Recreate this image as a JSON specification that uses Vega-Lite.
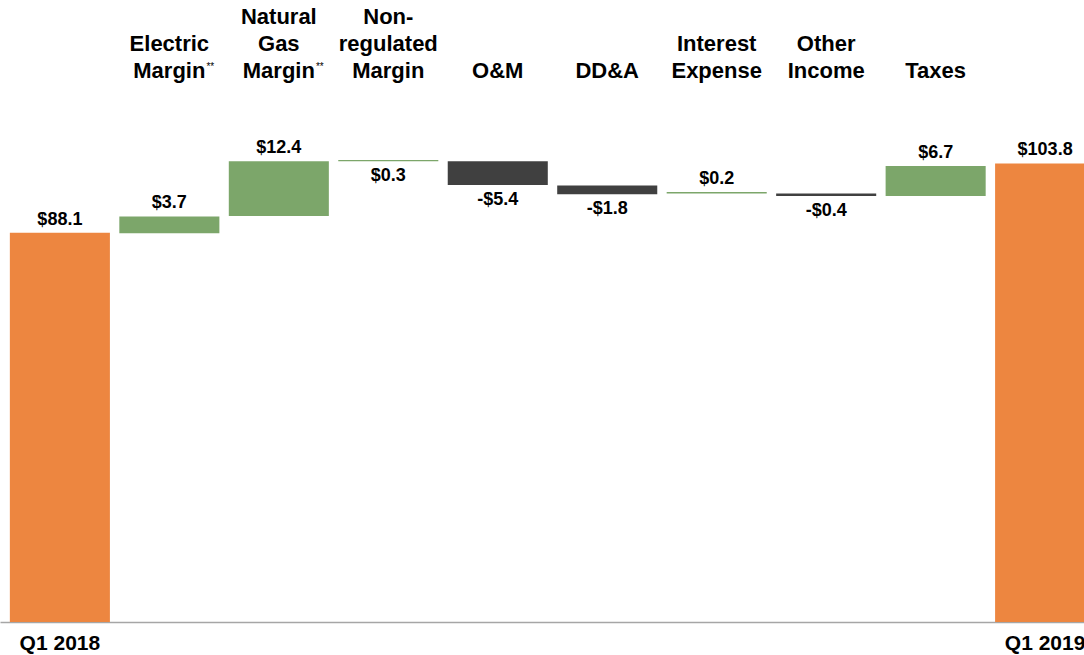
{
  "$schema": "https://vega.github.io/schema/vega-lite/v6.json",
  "width": 1084,
  "height": 486,
  "autosize": "none",
  "padding": {"left": 0, "top": 136, "right": 0, "bottom": 33},
  "background": "white",
  "config": {
    "view": {"stroke": null},
    "font": "Liberation Sans",
    "axis": {"title": null, "labelAngle": 0, "ticks": false, "tickSize": 0, "grid": false, "labelOverlap": false, "labelColor": "#000000"}
  },
  "data": {
    "values": [
      {"cat": "Q1 2018", "lo": 0, "hi": 88.1, "kind": "total", "label": "$88.1", "pos": "above"},
      {"cat": "Electric|Margin", "lo": 88.0, "hi": 91.8, "kind": "up", "label": "$3.7", "pos": "above"},
      {"cat": "Natural|Gas|Margin", "lo": 91.9, "hi": 104.26, "kind": "up", "label": "$12.4", "pos": "above"},
      {"cat": "Non-|regulated|Margin", "lo": 104.26, "hi": 104.58, "kind": "up", "label": "$0.3", "pos": "below"},
      {"cat": "O&M", "lo": 98.9, "hi": 104.26, "kind": "down", "label": "-$5.4", "pos": "below"},
      {"cat": "DD&A", "lo": 96.8, "hi": 98.8, "kind": "down", "label": "-$1.8", "pos": "below"},
      {"cat": "Interest|Expense", "lo": 97.0, "hi": 97.32, "kind": "up", "label": "$0.2", "pos": "above"},
      {"cat": "Other|Income", "lo": 96.4, "hi": 97.0, "kind": "down", "label": "-$0.4", "pos": "below"},
      {"cat": "Taxes", "lo": 96.4, "hi": 103.2, "kind": "up", "label": "$6.7", "pos": "above"},
      {"cat": "Q1 2019", "lo": 0, "hi": 103.8, "kind": "total", "label": "$103.8", "pos": "above"}
    ]
  },
  "resolve": {"axis": {"x": "independent"}},
  "layer": [
    {
      "transform": [{"filter": "datum.kind == 'total'"}],
      "mark": {"type": "bar"},
      "encoding": {
        "x": {
          "field": "cat", "type": "nominal", "sort": null,
          "scale": {
            "domain": ["Q1 2018", "Electric|Margin", "Natural|Gas|Margin", "Non-|regulated|Margin", "O&M", "DD&A", "Interest|Expense", "Other|Income", "Taxes", "Q1 2019"],
            "range": [0, 1105], "paddingInner": 0.086, "paddingOuter": 0.09
          },
          "axis": {
            "orient": "bottom",
            "labelExpr": "indexof(datum.value, 'Q1') == 0 ? datum.value : ''",
            "labelFontSize": 21, "labelFontWeight": "bold",
            "labelPadding": 10, "domainColor": "#A6A6A6", "domainWidth": 1.5
          }
        },
        "y": {"field": "lo", "type": "quantitative", "scale": {"domain": [0, 110], "nice": false}, "axis": null},
        "y2": {"field": "hi"},
        "color": {
          "field": "kind", "type": "nominal",
          "scale": {"domain": ["total", "up", "down"], "range": ["#ED8640", "#7CA66A", "#404040"]},
          "legend": null
        }
      }
    },
    {
      "transform": [{"filter": "datum.kind != 'total'"}],
      "mark": {"type": "bar"},
      "encoding": {
        "x": {
          "field": "cat", "type": "nominal", "sort": null,
          "axis": {
            "orient": "top", "domain": false,
            "labelExpr": "indexof(datum.value, 'Q1') != 0 && indexof(datum.value, '|') < 0 ? datum.value : ''",
            "labelFontSize": 22, "labelFontWeight": "bold",
            "labelBaseline": "bottom", "labelPadding": 54
          }
        },
        "y": {"field": "lo", "type": "quantitative"},
        "y2": {"field": "hi"},
        "color": {"field": "kind", "type": "nominal", "legend": null}
      }
    },
    {
      "transform": [{"filter": "datum.pos == 'above' && datum.kind == 'total'"}],
      "mark": {"type": "text", "baseline": "alphabetic", "dy": -8, "fontSize": 18, "fontWeight": "bold", "color": "#000000"},
      "encoding": {
        "x": {
          "field": "cat", "type": "nominal", "sort": null,
          "axis": {
            "orient": "top", "domain": false,
            "labelExpr": "length(split(datum.value, '|')) == 2 ? split(datum.value, '|') : ''",
            "labelFontSize": 22, "labelFontWeight": "bold",
            "labelBaseline": "bottom", "labelLineHeight": 27, "labelPadding": 81
          }
        },
        "y": {"field": "hi", "type": "quantitative"},
        "text": {"field": "label"}
      }
    },
    {
      "transform": [{"filter": "datum.pos == 'above' && datum.kind != 'total'"}],
      "mark": {"type": "text", "baseline": "alphabetic", "dy": -8, "fontSize": 18, "fontWeight": "bold", "color": "#000000"},
      "encoding": {
        "x": {
          "field": "cat", "type": "nominal", "sort": null,
          "axis": {
            "orient": "top", "domain": false,
            "labelExpr": "length(split(datum.value, '|')) == 3 ? split(datum.value, '|') : ''",
            "labelFontSize": 22, "labelFontWeight": "bold",
            "labelBaseline": "bottom", "labelLineHeight": 27, "labelPadding": 108
          }
        },
        "y": {"field": "hi", "type": "quantitative"},
        "text": {"field": "label"}
      }
    },
    {
      "transform": [{"filter": "datum.pos == 'below'"}],
      "mark": {"type": "text", "baseline": "top", "dy": 6, "fontSize": 18, "fontWeight": "bold", "color": "#000000"},
      "encoding": {
        "x": {
          "field": "cat", "type": "nominal", "sort": null,
          "axis": {
            "orient": "top", "domain": false,
            "labelExpr": "(indexof(datum.value, 'Electric') == 0 || indexof(datum.value, 'Natural') == 0) ? '**' : ''",
            "labelFontSize": 10,
            "labelBaseline": "bottom", "labelOffset": 41, "labelPadding": 65
          }
        },
        "y": {"field": "lo", "type": "quantitative"},
        "text": {"field": "label"}
      }
    }
  ]
}
